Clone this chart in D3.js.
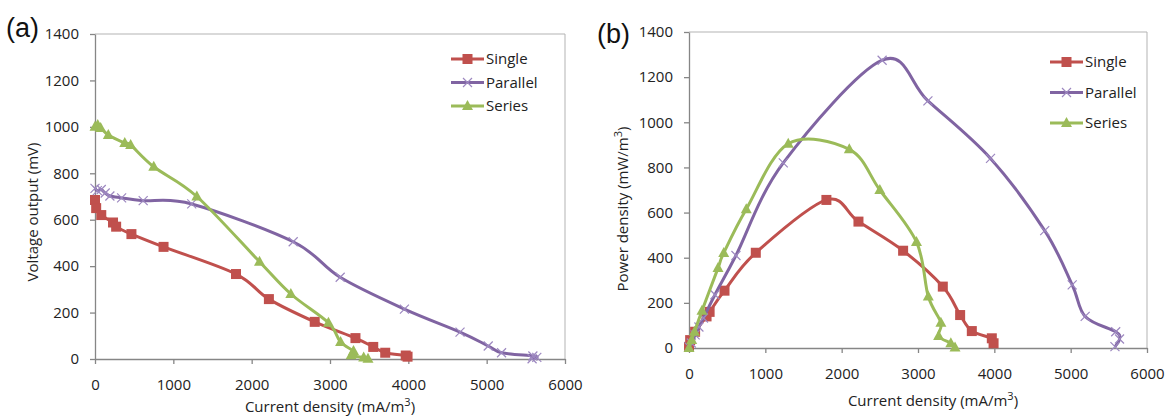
<!DOCTYPE html>
<html>
<head>
<meta charset="utf-8">
<script src="https://cdn.jsdelivr.net/npm/d3@7"></script>
<style>
  body { margin: 0; background: #fff; }
  svg { display: block; }
  .tick text { font-family: "Open Sans", sans-serif; font-size: 15px; fill: #222; }
  .axisTitle { font-family: "Open Sans", sans-serif; font-size: 15px; fill: #222; }
  .legendText { font-family: "Open Sans", sans-serif; font-size: 15px; fill: #222; }
  .panelLabel { font-family: "Liberation Sans", Arial, sans-serif; font-size: 27px; fill: #111; }
</style>
</head>
<body>
<div id="chart"></div>
<script>
// Tick values shared by both panels
const xTicks = [0, 1000, 2000, 3000, 4000, 5000, 6000];
const yTicks = [0, 200, 400, 600, 800, 1000, 1200, 1400];

// Single MFC
const singleCurrent = [0, 15, 80, 230, 270, 465, 875, 1800, 2220, 2805, 3325, 3552, 3705, 3967, 3990];
const singleVoltage = [685, 650, 620, 588, 570, 538, 483, 366, 258, 160, 90, 52, 27, 15, 10];
const singlePower = [5, 35, 72, 140, 160, 254, 422, 656, 560, 431, 272, 146, 75, 43, 21];

// Parallel connection
const parallelCurrent = [0, 30, 80, 130, 190, 340, 615, 1235, 2530, 3130, 3950, 4660, 5020, 5190, 5590, 5640, 5580];
const parallelVoltage = [735, 725, 730, 715, 702, 694, 682, 668, 505, 352, 215, 116, 56, 27, 13, 7, 1];
const parallelPower = [5, 22, 58, 93, 133, 236, 410, 820, 1275, 1095, 840, 520, 280, 140, 72, 40, 6];

// Series connection
const seriesCurrent = [0, 35, 72, 170, 380, 455, 750, 1300, 2100, 2500, 2980, 3135, 3300, 3270, 3430, 3485];
const seriesVoltage = [1000, 1008, 995, 965, 930, 922, 828, 700, 419, 280, 156, 73, 34, 16, 6, 1];
const seriesPower = [0, 35, 72, 165, 354, 421, 615, 905, 880, 700, 470, 228, 112, 53, 21, 2];

const COLORS = {single: "#C0504D", parallel: "#8064A2", series: "#9BBB59"};

const svg = d3.select("#chart").append("svg")
    .attr("width", 1167)
    .attr("height", 419);

function zip(xs, ys) {
    return xs.map((x, i) => ({x: x, y: ys[i]}));
}

function drawMarker(g, kind, cx, cy) {
    if (kind === "single") {
        g.append("rect")
            .attr("x", cx - 5).attr("y", cy - 5)
            .attr("width", 10).attr("height", 10)
            .attr("fill", COLORS.single);
    } else if (kind === "series") {
        g.append("path")
            .attr("d", `M${cx},${cy - 6}L${cx + 5.5},${cy + 4}L${cx - 5.5},${cy + 4}Z`)
            .attr("fill", COLORS.series);
    } else {
        g.append("path")
            .attr("d", `M${cx - 4.5},${cy - 4.5}L${cx + 4.5},${cy + 4.5}M${cx - 4.5},${cy + 4.5}L${cx + 4.5},${cy - 4.5}`)
            .attr("stroke", "#9d88c0")
            .attr("stroke-width", 1.2)
            .attr("fill", "none");
    }
}

function drawPanel(cfg) {
    const x = d3.scaleLinear().domain([0, 6000]).range([cfg.left, cfg.right]);
    const y = d3.scaleLinear().domain([0, 1400]).range([cfg.bottom, cfg.top]);
    const g = svg.append("g");

    // Plot frame (top and right)
    g.append("path")
        .attr("d", `M${cfg.left},${cfg.top}H${cfg.right}V${cfg.bottom}`)
        .attr("fill", "none")
        .attr("stroke", "#b3b3b3")
        .attr("stroke-width", 1);

    const fmt = d3.format("d");
    const yAxis = g.append("g")
        .attr("transform", `translate(${cfg.left},0)`)
        .call(d3.axisLeft(y).tickValues(yTicks).tickFormat(fmt).tickSize(5).tickSizeOuter(0).tickPadding(11));
    const xAxis = g.append("g")
        .attr("transform", `translate(0,${cfg.bottom})`)
        .call(d3.axisBottom(x).tickValues(xTicks).tickFormat(fmt).tickSize(5).tickSizeOuter(0).tickPadding(15));
    [xAxis, yAxis].forEach(a => {
        a.select(".domain").attr("stroke", "#868686").attr("stroke-width", 1.3);
        a.selectAll(".tick line").attr("stroke", "#868686").attr("stroke-width", 1.3);
    });

    // Axis titles
    const xt = g.append("text")
        .attr("class", "axisTitle")
        .attr("text-anchor", "middle")
        .attr("x", cfg.xTitleX)
        .attr("y", cfg.xTitleY);
    xt.append("tspan").text(cfg.xTitle);
    xt.append("tspan").attr("dy", -6).attr("font-size", 11).text("3");
    xt.append("tspan").attr("dy", 6).text(")");

    const yt = g.append("text")
        .attr("class", "axisTitle")
        .attr("text-anchor", "middle")
        .attr("transform", `translate(${cfg.yTitleX},${cfg.yTitleY}) rotate(-90)`);
    yt.append("tspan").text(cfg.yTitle);
    if (cfg.ySup) {
        yt.append("tspan").attr("dy", -6).attr("font-size", 11).text("3");
        yt.append("tspan").attr("dy", 6).text(")");
    }

    // Panel label
    g.append("text")
        .attr("class", "panelLabel")
        .attr("x", cfg.labelX)
        .attr("y", cfg.labelY)
        .text(cfg.label);

    const line = d3.line()
        .x(d => x(d.x))
        .y(d => y(d.y))
        .curve(d3.curveCardinal.tension(0));

    // Draw order: single, parallel, series
    cfg.series.forEach(s => {
        g.append("path")
            .attr("d", line(s.data))
            .attr("fill", "none")
            .attr("stroke", COLORS[s.kind])
            .attr("stroke-width", 3)
            .attr("stroke-linejoin", "round");
        const mg = g.append("g");
        s.data.forEach(d => drawMarker(mg, s.kind, x(d.x), y(d.y)));
    });

    // Legend
    cfg.series.forEach((s, i) => {
        const ly = cfg.legendY + i * cfg.legendStep;
        g.append("line")
            .attr("x1", cfg.legendX).attr("x2", cfg.legendX + 33)
            .attr("y1", ly).attr("y2", ly)
            .attr("stroke", COLORS[s.kind])
            .attr("stroke-width", 3);
        drawMarker(g, s.kind, cfg.legendX + 16.5, ly);
        g.append("text")
            .attr("class", "legendText")
            .attr("x", cfg.legendX + 35)
            .attr("y", ly + 5)
            .text(s.name);
    });
}

drawPanel({
    left: 95, right: 565, top: 34, bottom: 359,
    label: "(a)", labelX: 6, labelY: 37,
    xTitle: "Current density (mA/m", xTitleX: 330, xTitleY: 412,
    yTitle: "Voltage output (mV)", yTitleX: 38, yTitleY: 212, ySup: false,
    legendX: 451, legendY: 59, legendStep: 23.5,
    series: [
        {kind: "single", name: "Single", data: zip(singleCurrent, singleVoltage)},
        {kind: "parallel", name: "Parallel", data: zip(parallelCurrent, parallelVoltage)},
        {kind: "series", name: "Series", data: zip(seriesCurrent, seriesVoltage)}
    ]
});

drawPanel({
    left: 689, right: 1147, top: 32, bottom: 348,
    label: "(b)", labelX: 597, labelY: 43,
    xTitle: "Current density  (mA/m", xTitleX: 933, xTitleY: 406,
    yTitle: "Power density (mW/m", yTitleX: 628, yTitleY: 209, ySup: true,
    legendX: 1050, legendY: 62, legendStep: 30.5,
    series: [
        {kind: "single", name: "Single", data: zip(singleCurrent, singlePower)},
        {kind: "parallel", name: "Parallel", data: zip(parallelCurrent, parallelPower)},
        {kind: "series", name: "Series", data: zip(seriesCurrent, seriesPower)}
    ]
});
</script>
</body>
</html>
